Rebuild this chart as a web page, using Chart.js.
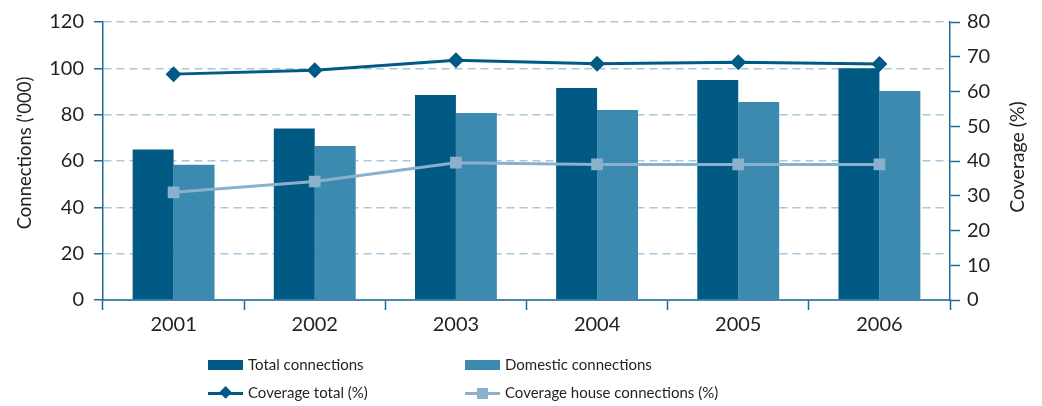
<!DOCTYPE html>
<html>
<head>
<meta charset="utf-8">
<script src="https://cdn.jsdelivr.net/npm/chart.js@4.4.1/dist/chart.umd.min.js"></script>
<style>
  html, body { margin: 0; padding: 0; background: #ffffff; }
  #wrap { position: relative; width: 1042px; height: 406px; font-family: Lato, "Noto Sans", sans-serif; color: #231f20; }
  #c { position: absolute; left: 0; top: 0; }
  .lg { position: absolute; font-size: 15px; line-height: 18px; white-space: nowrap; }
  .sw { position: absolute; }
</style>
</head>
<body>
<div id="wrap">
  <canvas id="c" width="1042" height="406"></canvas>
  <div id="legend"></div>
</div>
<script>
const categories = ['2001', '2002', '2003', '2004', '2005', '2006'];
const totalConnections = [65, 74, 88.5, 91.5, 95, 100];
const domesticConnections = [58.4, 66.5, 80.7, 82, 85.5, 90.2];
const coverageTotal = [65, 66.1, 69, 68, 68.4, 67.9];
const coverageHouse = [31, 34.1, 39.5, 39, 39, 39];
const leftTickStep = 20, leftMax = 120;
const rightTickStep = 10, rightMax = 80;
const seriesNames = ['Total connections', 'Domestic connections', 'Coverage total (%)', 'Coverage house connections (%)'];
const leftTitle = "Connections ('000)";
const rightTitle = 'Coverage (%)';

const C_TOTAL = '#005a84';
const C_DOM = '#3c8ab0';
const C_HOUSE = '#8ab0cc';
const C_AXIS = '#1f6a94';
const C_GRID = '#a8c8dc';
const C_TEXT = '#231f20';
const FONT = 'Lato, "Noto Sans", sans-serif';

const axisTitlePlugin = {
  id: 'axisTitles',
  afterDraw(chart) {
    const ctx = chart.ctx;
    const a = chart.chartArea;
    const mid = (a.top + a.bottom) / 2;
    ctx.save();
    ctx.fillStyle = C_TEXT;
    ctx.textAlign = 'center';
    ctx.textBaseline = 'middle';
    ctx.font = '18.5px ' + FONT;
    ctx.save();
    ctx.translate(chart.scales.y.left + 25, mid - 8);
    ctx.rotate(-Math.PI / 2);
    ctx.fillText(leftTitle, 0, 0);
    ctx.restore();
    ctx.font = '19.5px ' + FONT;
    ctx.translate(chart.scales.y1.right - 24, mid - 4);
    ctx.rotate(-Math.PI / 2);
    ctx.fillText(rightTitle, 0, 0);
    ctx.restore();
  }
};

const chart = new Chart(document.getElementById('c'), {
  type: 'bar',
  data: {
    labels: categories,
    datasets: [
      { type: 'line', label: seriesNames[2], data: coverageTotal, yAxisID: 'y1', order: 0,
        borderColor: C_TOTAL, backgroundColor: C_TOTAL, borderWidth: 3,
        pointStyle: 'rectRot', pointRadius: 8, pointBorderWidth: 0, tension: 0 },
      { type: 'line', label: seriesNames[3], data: coverageHouse, yAxisID: 'y1', order: 1,
        borderColor: C_HOUSE, backgroundColor: C_HOUSE, borderWidth: 3,
        pointStyle: 'rect', pointRadius: 8.3, pointBorderWidth: 0, tension: 0 },
      { label: seriesNames[0], data: totalConnections, yAxisID: 'y', order: 2,
        backgroundColor: C_TOTAL, borderWidth: 0, categoryPercentage: 0.58, barPercentage: 1.0 },
      { label: seriesNames[1], data: domesticConnections, yAxisID: 'y', order: 3,
        backgroundColor: C_DOM, borderWidth: 0, categoryPercentage: 0.58, barPercentage: 1.0 }
    ]
  },
  options: {
    responsive: false,
    animation: false,
    layout: { padding: { top: 21, bottom: 66, left: 0, right: 0 } },
    plugins: { legend: { display: false }, tooltip: { enabled: false } },
    scales: {
      x: {
        offset: true,
        grid: { offset: true, drawOnChartArea: false, drawTicks: true, tickLength: 10, tickColor: C_AXIS, tickWidth: 1.5 },
        border: { color: '#4a86ae', width: 2 },
        ticks: { font: { family: FONT, size: 20 }, color: C_TEXT, padding: 3, maxRotation: 0 },
        afterFit: s => { s.height = 40; }
      },
      y: {
        position: 'left', min: 0, max: leftMax,
        ticks: { stepSize: leftTickStep, font: { family: FONT, size: 20 }, color: C_TEXT, padding: 10 },
        grid: { color: c => (c.tick && c.tick.value === 0) ? 'rgba(0,0,0,0)' : C_GRID, lineWidth: 1.5,
                tickColor: C_AXIS, tickLength: 9, tickWidth: 1.5 },
        border: { color: C_AXIS, width: 1.5, dash: [8, 5] },
        afterFit: s => { s.width = 103; }
      },
      y1: {
        position: 'right', min: 0, max: rightMax,
        ticks: { stepSize: rightTickStep, font: { family: FONT, size: 20 }, color: C_TEXT, padding: 7 },
        grid: { drawOnChartArea: false, tickColor: C_AXIS, tickLength: 10, tickWidth: 1.5 },
        border: { color: C_AXIS, width: 1.5 },
        afterFit: s => { s.width = 92; }
      }
    }
  },
  plugins: [axisTitlePlugin]
});

// HTML legend built from datasets
const legend = document.getElementById('legend');
const byLabel = {};
chart.data.datasets.forEach(d => { byLabel[d.label] = d; });
const items = [
  { name: seriesNames[0], kind: 'bar', x: 208, y: 365 },
  { name: seriesNames[1], kind: 'bar', x: 465, y: 365 },
  { name: seriesNames[2], kind: 'diamond', x: 208, y: 393 },
  { name: seriesNames[3], kind: 'square', x: 465, y: 393 }
];
items.forEach(it => {
  const ds = byLabel[it.name];
  const color = ds.backgroundColor;
  if (it.kind === 'bar') {
    const s = document.createElement('div');
    s.className = 'sw';
    s.style.cssText = `left:${it.x}px;top:${it.y - 5}px;width:35px;height:10px;background:${color}`;
    legend.appendChild(s);
  } else {
    const l = document.createElement('div');
    l.className = 'sw';
    l.style.cssText = `left:${it.x}px;top:${it.y - 1.5}px;width:35px;height:3px;background:${color}`;
    legend.appendChild(l);
    const m = document.createElement('div');
    m.className = 'sw';
    if (it.kind === 'diamond') {
      m.style.cssText = `left:${it.x + 17.5 - 4.6}px;top:${it.y - 4.6}px;width:9.2px;height:9.2px;background:${color};transform:rotate(45deg)`;
    } else {
      m.style.cssText = `left:${it.x + 17.5 - 5.5}px;top:${it.y - 5.5}px;width:11px;height:11px;background:${color}`;
    }
    legend.appendChild(m);
  }
  const t = document.createElement('div');
  t.className = 'lg';
  t.textContent = it.name;
  t.style.left = (it.x + 40) + 'px';
  t.style.top = (it.y - 10) + 'px';
  legend.appendChild(t);
});
</script>
</body>
</html>
